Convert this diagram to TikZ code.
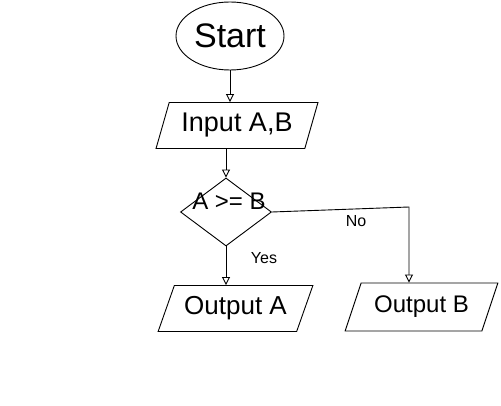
\documentclass[tikz,border=0pt]{standalone}
\usepackage{fontspec}
\setmainfont{Liberation Sans}
\usetikzlibrary{shapes.geometric,arrows.meta}

\tikzset{
  ink/.style={draw=black, line width=0.9pt},
  flow/.style={ink, -{Triangle[open, length=8pt, width=8pt]}},
  ioshape/.style={ink, trapezium, trapezium stretches=true,
    inner sep=0pt, minimum height=46pt},
  lbl/.style={font=\fontsize{16}{18}\selectfont, inner sep=0pt}
}

\begin{document}
\begin{tikzpicture}[x=1pt, y=-1pt]
  \useasboundingbox (0,0) rectangle (501,406);

  % start terminal
  \node[ink, ellipse, minimum width=108pt, minimum height=68pt, inner sep=0pt,
        font=\fontsize{34}{36}\selectfont] (start) at (230,36) {Start};

  % input
  \node[ioshape, trapezium left angle=66, trapezium right angle=114,
        minimum width=162pt, font=\fontsize{27}{30}\selectfont] (input) at (237,125.5) {Input A,B};

  % decision
  \node[ink, diamond, minimum width=91pt, minimum height=68pt, inner sep=0pt] (dec) at (226,212) {};
  \node[font=\fontsize{24}{26}\selectfont, inner sep=0pt] (dectext) at (229,201) {A >= B};

  % outputs
  \node[ioshape, trapezium left angle=60, trapezium right angle=120,
        minimum width=155pt, font=\fontsize{26}{28}\selectfont] (outa) at (235.5,308.5) {Output A};
  \node[ioshape, trapezium left angle=60, trapezium right angle=120,
        minimum width=153pt, minimum height=48pt, font=\fontsize{24}{26}\selectfont] (outb) at (421.5,307) {Output B};

  % corner of the "No" branch
  \coordinate (nocorner) at (409,207);

  % connectors
  \draw[flow] (start.south) -- (start.south |- input.north);
  \draw[flow] (dec.north |- input.south) -- (dec.north);
  \draw[flow] (dec.south) -- (dec.south |- outa.north);
  \draw[flow] (dec.east) -- (nocorner) -- (nocorner |- outb.north);

  % branch labels
  \node[lbl] (yes) at (264,258) {Yes};
  \node[lbl] (no) at (356,221) {No};
\end{tikzpicture}
\end{document}
